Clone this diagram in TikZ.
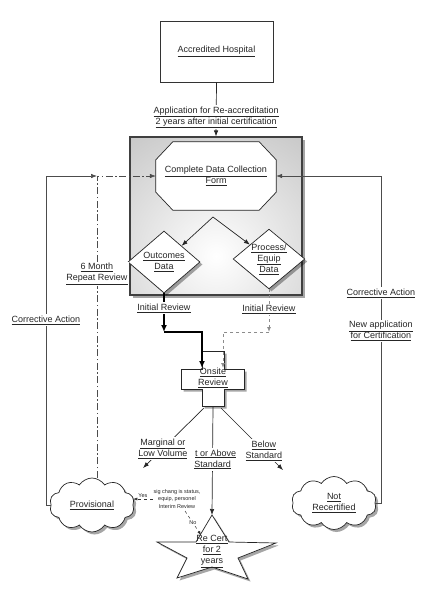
\documentclass[tikz,border=0pt]{standalone}
\usepackage{fontspec}
\setmainfont{Liberation Sans}
\usetikzlibrary{arrows.meta,shapes.geometric,shapes.symbols,shadows,calc}
\newcommand\ulx[1]{\underline{#1}}
\begin{document}
\begin{tikzpicture}[x=1pt,y=-1pt,
  every node/.style={font=\fontsize{9}{11}\selectfont, text=black!85, align=center, inner sep=1pt},
  lbl/.style={fill=white, inner sep=1.5pt},
  small/.style={font=\fontsize{5.5}{7.2}\selectfont, inner sep=0.8pt},
  arr/.style={-{Latex[length=6pt,width=4.5pt]}, line width=0.7pt, draw=black!85},
  thickarr/.style={-{Latex[length=7pt,width=6pt]}, line width=1.8pt, draw=black},
  grayarr/.style={-{Latex[length=5pt,width=4pt]}, line width=0.9pt, draw=black!45, dashed},
  looparr/.style={-{Latex[length=6pt,width=4.5pt]}, line width=0.6pt, draw=black!70},
  dashdotline/.style={dash pattern=on 7pt off 2.5pt on 1.5pt off 2.5pt},
  smallarr/.style={-{Latex[length=4pt,width=3pt]}, line width=0.5pt, draw=black!80, dashed},
  shad/.style={drop shadow={shadow xshift=2.5pt,shadow yshift=-2.5pt,opacity=0.35,fill=black}},
  shp/.style={draw=black!85, line width=0.7pt, fill=white}
]
\useasboundingbox (0,0) rectangle (432,600);

% top box
\node[draw=black!80, line width=0.7pt, minimum width=113pt, minimum height=61pt, inner sep=0] (hosp) at (216.5,51.5) {\ulx{Accredited Hospital}};

% gray data box
\node[draw=black!75, line width=1.1pt, minimum width=172pt, minimum height=158pt, inner sep=0, shad,
  path picture={\fill[black!45] (path picture bounding box.south west) rectangle (path picture bounding box.north east);
    \shade[inner color=white, outer color=black!45] ([yshift=-40pt]path picture bounding box.center) circle (310pt);}] (databox) at (216,216) {};

\draw[arr] (hosp.south) -- node[lbl, pos=0.645]{\ulx{Application for Re-accreditation}\\\ulx{2 years after initial certification}} (databox.north);

% octagon
\node[minimum width=120pt, minimum height=68pt, inner sep=0] (oct) at (216,176) {};
\draw[shp] ([xshift=17pt]oct.north west) -- ([xshift=-17pt]oct.north east) -- ([yshift=-18pt]oct.north east)
  -- ([yshift=18pt]oct.south east) -- ([xshift=-17pt]oct.south east) -- ([xshift=17pt]oct.south west)
  -- ([yshift=18pt]oct.south west) -- ([yshift=-18pt]oct.north west) -- cycle;
\node (octtext) at (oct.center) {\ulx{Complete Data Collection}\\\ulx{Form}};

% diamonds
\node[diamond, shp, shad, minimum width=72pt, minimum height=62pt, inner sep=0, aspect=1.16] (outc) at (164,262) {\ulx{Outcomes}\\\ulx{Data}};
\node[diamond, shp, shad, minimum width=67pt, minimum height=56pt, inner sep=0, aspect=1.2] (proc) at (269,259) {\ulx{Process/}\\\ulx{Equip}\\\ulx{Data}};

\coordinate (split) at (213,217);
\draw[arr] (split) -- (outc);
\draw[arr] (split) -- (proc);

% onsite review cross
\draw[shp, shad] (202,351) -- (224,351) -- (224,369) -- (244,369) -- (244,389) -- (224,389) -- (224,406)
  -- (202,406) -- (202,389) -- (181,389) -- (181,369) -- (202,369) -- cycle;
\node (onsite) at (213,378) {\ulx{Onsite}\\\ulx{Review}};

\coordinate (lj2) at (164,332);
\coordinate (rj2) at (269,332);
\coordinate (ctl) at (202,368);
\coordinate (ctr) at (223,368);
\draw[thickarr] (outc.south) -- node[lbl, pos=0.385]{\ulx{Initial Review}} (lj2);
\draw[thickarr] (lj2) -| (ctl);
\draw[grayarr] (proc.south) -- node[lbl, pos=0.47]{\ulx{Initial Review}} (rj2);
\draw[grayarr] (rj2) -| (ctr);

% star
\draw[shp, shad] (212,515) -- (229,542) -- (276,543) -- (238,558) -- (248,579) -- (212,567)
  -- (177,578) -- (187,558) -- (157,542) -- (196,542) -- cycle;
\node (recert) at (212,551.5) {\ulx{Re Cert}\\\ulx{for 2}\\\ulx{years}};
\coordinate (startop) at (212,515);

% clouds
\node[cloud, cloud puffs=10, cloud puff arc=115, aspect=1.6, shp, shad, minimum width=85pt, minimum height=54pt, inner sep=0] (prov) at (92,505) {\ulx{Provisional}};
\node[cloud, cloud puffs=10, cloud puff arc=115, aspect=1.6, shp, shad, minimum width=85pt, minimum height=53pt, inner sep=0] (notrec) at (334,503) {\ulx{Not}\\\ulx{Recertified}};

% outcome branches
\coordinate (b1) at (204,408);
\coordinate (b2) at (213,407);
\coordinate (b3) at (221,408);
\coordinate (tL) at (143,468);
\coordinate (tR) at (283,470);
\draw[arr] (b2) -- node[lbl, pos=0.486]{\hphantom{A}\ulx{t or Above}\\\ulx{Standard}} (startop);
\draw[arr] (b1) -- node[lbl, pos=0.675]{\ulx{Marginal or}\\\ulx{Low Volume}} (tL);
\draw[arr] (b3) -- node[lbl, pos=0.69]{\ulx{Below}\\\ulx{Standard}} (tR);

% interim review
\node[small] (interim) at (177,499) {sig chang is status,\\equip, personel\\Interim Review};
\draw[smallarr] (interim.west) -- node[small, above]{Yes} (interim.west -| prov.east);
\coordinate (nos) at (185,511);
\coordinate (noe) at (201,535);
\draw[smallarr] (nos) -- node[small, fill=white]{No} (noe);

% left loops
\coordinate (lc) at (46,176);
\coordinate (lj) at (97,176);
\draw[looparr] (prov.west) -| (lc) -- (lj);
\node[lbl] (lca) at (46,320) {\ulx{Corrective Action}};
\draw[looparr, dashdotline] (prov.north -| lj) -- (lj) -- (oct.west);
\node[lbl] (six) at (97,274) {\ulx{6 Month}\\\ulx{Repeat Review}};

% right loop
\coordinate (rc) at (381,176);
\draw[looparr] (notrec.east) -| (rc) -- (oct.east);
\node[lbl] (rca) at (381,293) {\ulx{Corrective Action}};
\node[lbl] (newapp) at (381,331) {\ulx{New application}\\\ulx{for Certification}};
\end{tikzpicture}
\end{document}
